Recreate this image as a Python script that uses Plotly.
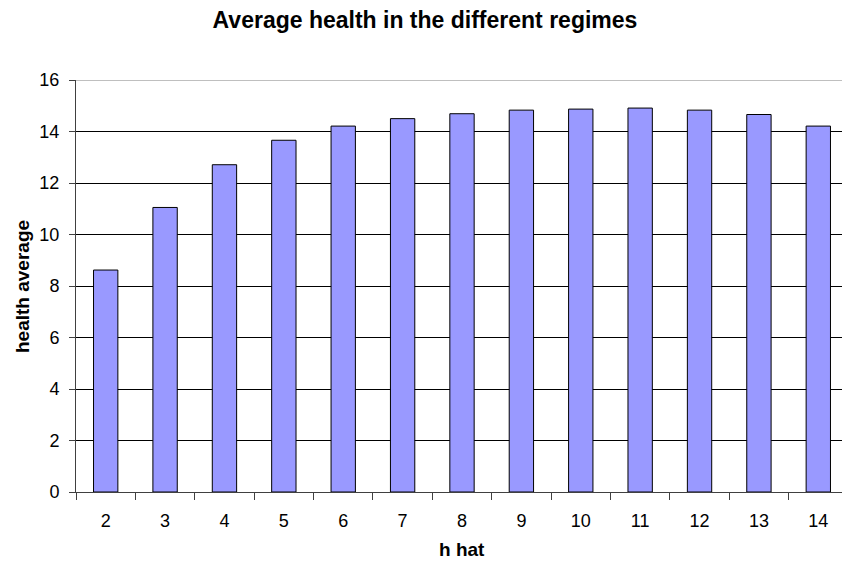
import plotly.graph_objects as go

h_hat = ["2", "3", "4", "5", "6", "7", "8", "9", "10", "11", "12", "13", "14"]
health_average = [8.62, 11.05, 12.71, 13.66, 14.21, 14.50, 14.69, 14.83, 14.87, 14.91, 14.83, 14.66, 14.21]
y_ticks = [0, 2, 4, 6, 8, 10, 12, 14, 16]

W, H = 842, 561
L, T, B = 76, 80, 69

fig = go.Figure()
fig.add_trace(go.Bar(
    x=h_hat, y=health_average,
    marker=dict(color="#9999FF", line=dict(color="#000000", width=1)),
    width=0.41,
))

font_main = "Liberation Sans, Arial, sans-serif"
fig.update_layout(
    width=W, height=H,
    margin=dict(l=L, r=0, t=T, b=B, autoexpand=False),
    paper_bgcolor="white", plot_bgcolor="white",
    showlegend=False,
    font=dict(family=font_main, size=18, color="#000000"),
    title=dict(
        text="<b>Average health in the different regimes</b>",
        font=dict(family=font_main, size=23, color="#000000"),
        xref="container", yref="container",
        x=425 / W, y=1 - 20 / H, xanchor="center", yanchor="middle",
    ),
    xaxis=dict(
        type="category",
        range=[-0.5, 12.5 - 6 / 59.4],
        tickson="boundaries",
        ticks="outside", ticklen=7, tickcolor="#404040", tickwidth=1,
        showline=True, linecolor="#404040", linewidth=1,
        showgrid=False, zeroline=False,
        tickfont=dict(size=18),
        ticklabelstandoff=12,
        automargin=False,
    ),
    yaxis=dict(
        range=[0, 16],
        tickvals=y_ticks,
        ticks="outside", ticklen=6, tickcolor="#404040", tickwidth=1,
        showline=True, linecolor="#404040", linewidth=1,
        showgrid=True, gridcolor="#000000", gridwidth=1,
        zeroline=False,
        tickfont=dict(size=18),
        ticklabelstandoff=6,
        automargin=False,
    ),
    bargap=0.59,
)

plot_w = W - L
plot_h = H - T - B
fig.add_shape(type="line", xref="paper", yref="y", x0=0, x1=1, y0=16, y1=16,
              line=dict(color="#808080", width=1))

fig.add_annotation(
    text="<b>h hat</b>", xref="paper", yref="paper",
    x=(462 - L) / plot_w, y=-(549 - (H - B)) / plot_h,
    showarrow=False, xanchor="center", yanchor="middle",
    font=dict(family=font_main, size=19),
)
fig.add_annotation(
    text="<b>health average</b>", xref="paper", yref="paper",
    x=-(L - 22) / plot_w, y=((H - B) - 286) / plot_h,
    showarrow=False, xanchor="center", yanchor="middle", textangle=-90,
    font=dict(family=font_main, size=19),
)

fig.write_html(
    "out.html",
    config={"displayModeBar": False},
    post_script="document.body.style.margin='0';document.body.style.overflow='hidden';",
)
